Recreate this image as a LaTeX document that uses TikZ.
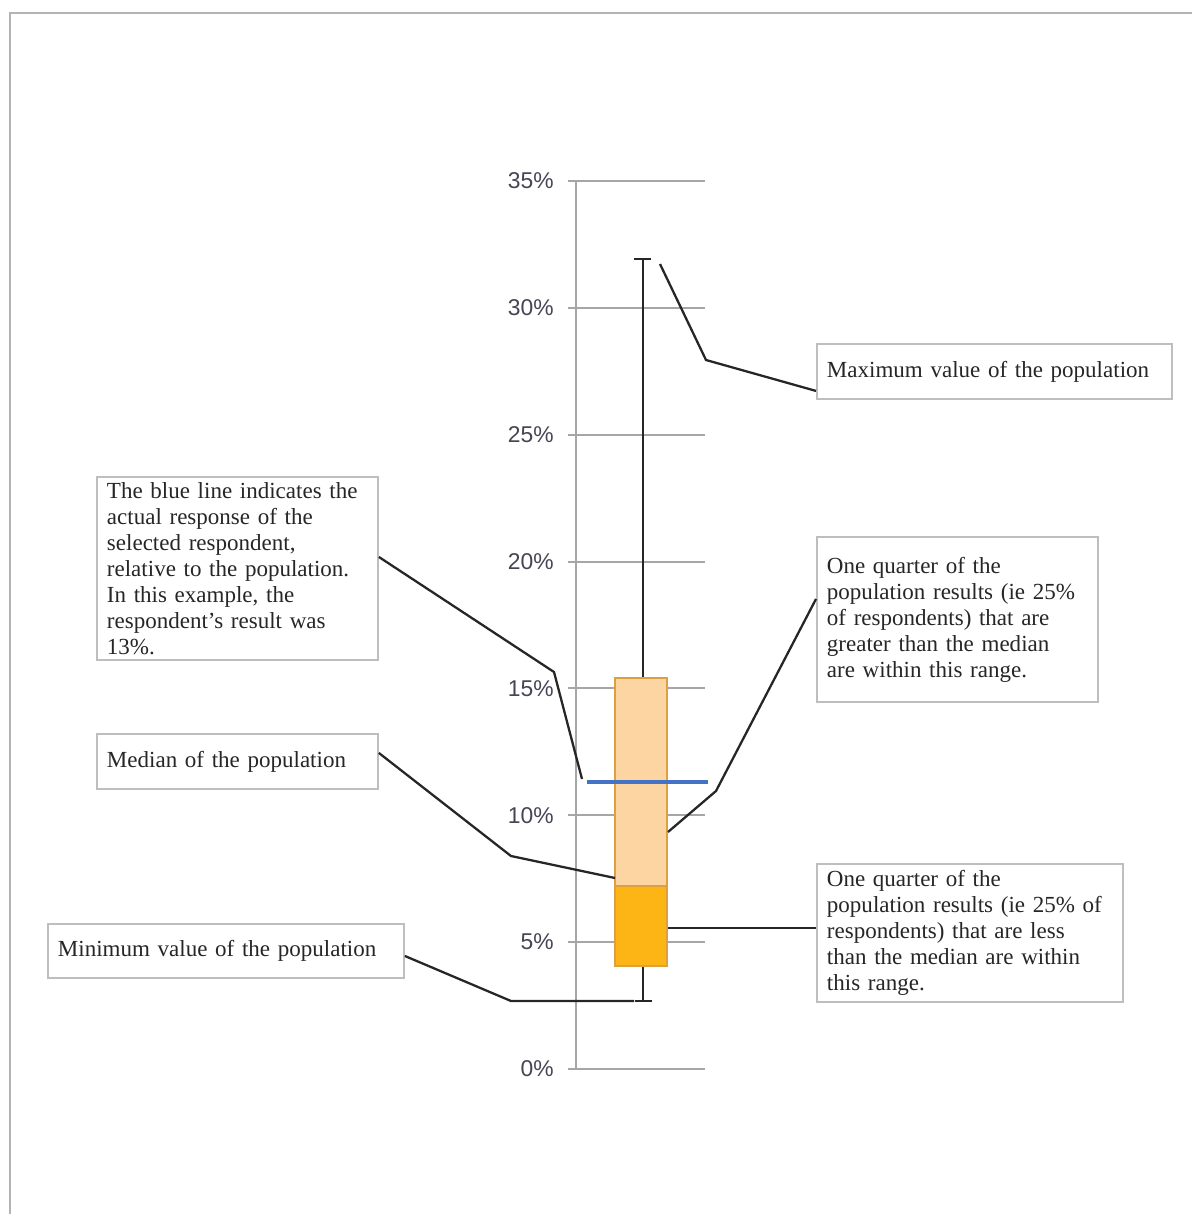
\documentclass[tikz,border=0pt]{standalone}
\usepackage{fontspec}
\setmainfont{Liberation Serif}
\newfontfamily\axisfont{Liberation Sans}
\definecolor{framegray}{HTML}{B4B4B4}
\definecolor{gridgray}{HTML}{A6A6A6}
\definecolor{boxedge}{HTML}{BEBEBE}
\definecolor{lightorange}{HTML}{FDD5A3}
\definecolor{darkorange}{HTML}{FDB515}
\definecolor{orangeedge}{HTML}{DDA040}
\definecolor{respblue}{HTML}{4472C4}
\definecolor{ticktext}{HTML}{454555}
\definecolor{calltext}{HTML}{262626}
\tikzset{
  gridline/.style={gridgray, line width=1.1pt},
  ticklabel/.style={anchor=east, text=ticktext, font=\axisfont\fontsize{13}{15}\selectfont, inner sep=0pt},
  callout/.style={draw=boxedge, line width=1.1pt, fill=white, anchor=north west, align=left,
    inner xsep=0.2cm, inner ysep=0pt, text=calltext, font=\fontsize{13.1}{14.8}\selectfont},
  leader/.style={line width=1.3pt, black!85},
}
\begin{document}
\begin{tikzpicture}[x=0.02cm, y=-0.02cm]  % 1 单位 = 1 像素

    \useasboundingbox (0,0) rectangle (1192,1214);

    % 外框(只有上边和左边)
    \draw[framegray, line width=1.1pt] (10,1214) -- (10,13) -- (1192,13);

    % 纵轴与网格线
    \draw[gridline] (576,181) -- (576,1070);
    \foreach \v in {0,5,...,35} {
        \pgfmathsetmacro{\yy}{1069-\v*25.37}
        \draw[gridline] (568,\yy) -- (705,\yy);
        \node[ticklabel] (tick\v) at (554,\yy) {\v\%};
    }

    % 须线
    \draw[leader] (643,259) -- (643,678); % 上须
    \draw[leader] (643,966) -- (643,1001); % 下须
    \draw[leader] (634,259) -- (651,259); % 最大值
    \draw[leader] (635,1001) -- (652,1001); % 最小值

    % 箱体
    \filldraw[fill=lightorange, draw=orangeedge, line width=0.8pt] (615,678) rectangle (667,886); % 上四分位
    \filldraw[fill=darkorange, draw=orangeedge, line width=0.8pt] (615,886) rectangle (667,966); % 下四分位

    % 蓝线:受访者结果
    \draw[respblue, line width=2.3pt] (587,782) -- (708,782);

    % 引线端点
    \coordinate (maxpt) at (660,264);
    \coordinate (resppt) at (582,779);
    \coordinate (upperpt) at (668,832);
    \coordinate (medpt) at (615,878);
    \coordinate (lowerpt) at (668,928);
    \coordinate (minpt) at (634,1001);

    % 说明框
    \node[callout, minimum width=7.1cm, minimum height=1.1cm, text width=6.7cm] (maxbox) at (816,343)
        {Maximum value of the population};
    \node[callout, minimum width=5.62cm, minimum height=3.66cm, text width=5.22cm] (respbox) at (96,476)
        {The blue line indicates the\\actual response of the\\selected respondent,\\relative to the population.\\In this example, the\\respondent's result was\\13\%.};
    \node[callout, minimum width=5.62cm, minimum height=3.3cm, text width=5.22cm] (upperbox) at (816,536)
        {One quarter of the\\population results (ie 25\%\\of respondents) that are\\greater than the median\\are within this range.};
    \node[callout, minimum width=5.62cm, minimum height=1.1cm, text width=5.22cm] (medbox) at (96,733)
        {Median of the population};
    \node[callout, minimum width=6.12cm, minimum height=2.76cm, text width=5.72cm] (lowerbox) at (816,863)
        {One quarter of the\\population results (ie 25\% of\\respondents) that are less\\than the median are within\\this range.};
    \node[callout, minimum width=7.12cm, minimum height=1.08cm, text width=6.72cm] (minbox) at (47,923)
        {Minimum value of the population};

    % 引线
    \draw[leader] ([yshift=0.18cm]maxbox.south west) -- (706,360) -- (maxpt);
    \draw[leader] ([yshift=0.23cm]respbox.east) -- (554,672) -- (resppt);
    \draw[leader] ([yshift=0.41cm]upperbox.west) -- (716,791) -- (upperpt);
    \draw[leader] ([yshift=0.17cm]medbox.east) -- (511,856) -- (medpt);
    \draw[leader] (lowerbox.west |- lowerpt) -- (lowerpt);
    \draw[leader] ([yshift=-0.1cm]minbox.east) -- (511,1001) -- (minpt);

\end{tikzpicture}
\end{document}
